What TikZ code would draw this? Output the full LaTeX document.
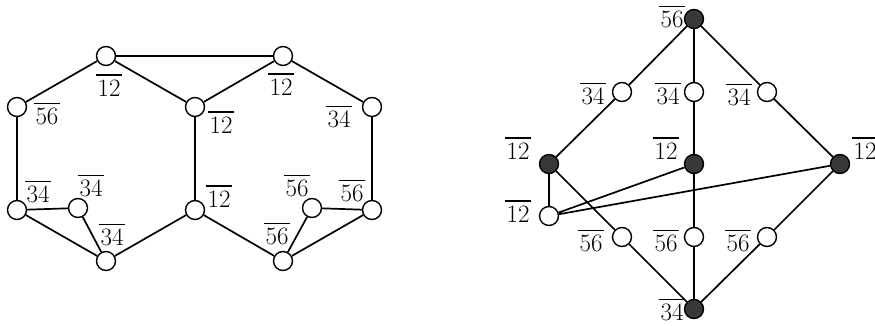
\documentclass[tikz,border=0pt]{standalone}
\usepackage{fontspec}
\newcommand\ob[1]{\vbox{\hrule height 1.7pt\kern 3.8pt\hbox{\kern1.5pt#1\kern1.5pt}}}
\begin{document}
\begin{tikzpicture}[x=1pt,y=-1pt,
  wn/.style={circle,draw,fill=white,minimum size=19pt,inner sep=0pt,line width=1.4pt},
  bn/.style={circle,draw,fill=black!78,minimum size=19pt,inner sep=0pt,line width=1.4pt},
  lab/.style={inner sep=0pt,font=\fontsize{25}{28}\selectfont},
  ed/.style={line width=1.7pt}]
\useasboundingbox (0,0) rectangle (875,326);
% left graph
\node[wn] (A) at (106,56) {};
\node[wn] (B) at (283,56) {};
\node[wn] (C) at (17,107) {};
\node[wn] (D) at (195,107) {};
\node[wn] (E) at (372,107) {};
\node[wn] (F) at (17,210) {};
\node[wn] (G) at (78,208) {};
\node[wn] (H) at (195,210) {};
\node[wn] (I) at (106,261) {};
\node[wn] (J) at (312,208) {};
\node[wn] (K) at (372,210) {};
\node[wn] (L) at (283,261) {};
\draw[ed] (A)--(B) (A)--(C) (A)--(D) (C)--(F) (F)--(G) (F)--(I) (G)--(I)
  (I)--(H) (D)--(H) (D)--(B) (B)--(E) (E)--(K) (K)--(J) (K)--(L) (J)--(L) (H)--(L);
\node[lab] (la1) at (109,85) {\ob{12}};
\node[lab] (la2) at (47,114) {\ob{56}};
\node[lab] (la3) at (221,122) {\ob{12}};
\node[lab] (la4) at (281,84) {\ob{12}};
\node[lab] (la5) at (339,117) {\ob{34}};
\node[lab] (la6) at (38,192) {\ob{34}};
\node[lab] (la7) at (91,186) {\ob{34}};
\node[lab] (la8) at (112,235) {\ob{34}};
\node[lab] (la9) at (219,196) {\ob{12}};
\node[lab] (la10) at (297,186) {\ob{56}};
\node[lab] (la11) at (352,191) {\ob{56}};
\node[lab] (la12) at (277,234) {\ob{56}};
% right graph
\node[bn] (T) at (694,19) {};
\node[wn] (P1) at (622,92) {};
\node[wn] (P2) at (694,92) {};
\node[wn] (P3) at (767,92) {};
\node[bn] (M) at (549,164) {};
\node[bn] (N) at (694,164) {};
\node[bn] (R) at (840,164) {};
\node[wn] (W) at (549,216) {};
\node[wn] (Q1) at (622,237) {};
\node[wn] (Q2) at (694,237) {};
\node[wn] (Q3) at (767,237) {};
\node[bn] (S) at (694,309) {};
\draw[ed] (T)--(P1)--(M) (T)--(P2)--(N) (T)--(P3)--(R)
  (M)--(Q1)--(S) (N)--(Q2)--(S) (R)--(Q3)--(S)
  (M)--(W) (W)--(N) (W)--(R);
\node[lab] (lb1) at (672,17) {\ob{56}};
\node[lab] (lb2) at (593,94) {\ob{34}};
\node[lab] (lb3) at (668,94) {\ob{34}};
\node[lab] (lb4) at (739,95) {\ob{34}};
\node[lab] (lb5) at (518,148) {\ob{12}};
\node[lab] (lb6) at (518,211) {\ob{12}};
\node[lab] (lb7) at (666,148) {\ob{12}};
\node[lab] (lb8) at (865,148) {\ob{12}};
\node[lab] (lb9) at (591,241) {\ob{56}};
\node[lab] (lb10) at (666,241) {\ob{56}};
\node[lab] (lb11) at (738,241) {\ob{56}};
\node[lab] (lb12) at (672,310) {\ob{34}};
\end{tikzpicture}
\end{document}
